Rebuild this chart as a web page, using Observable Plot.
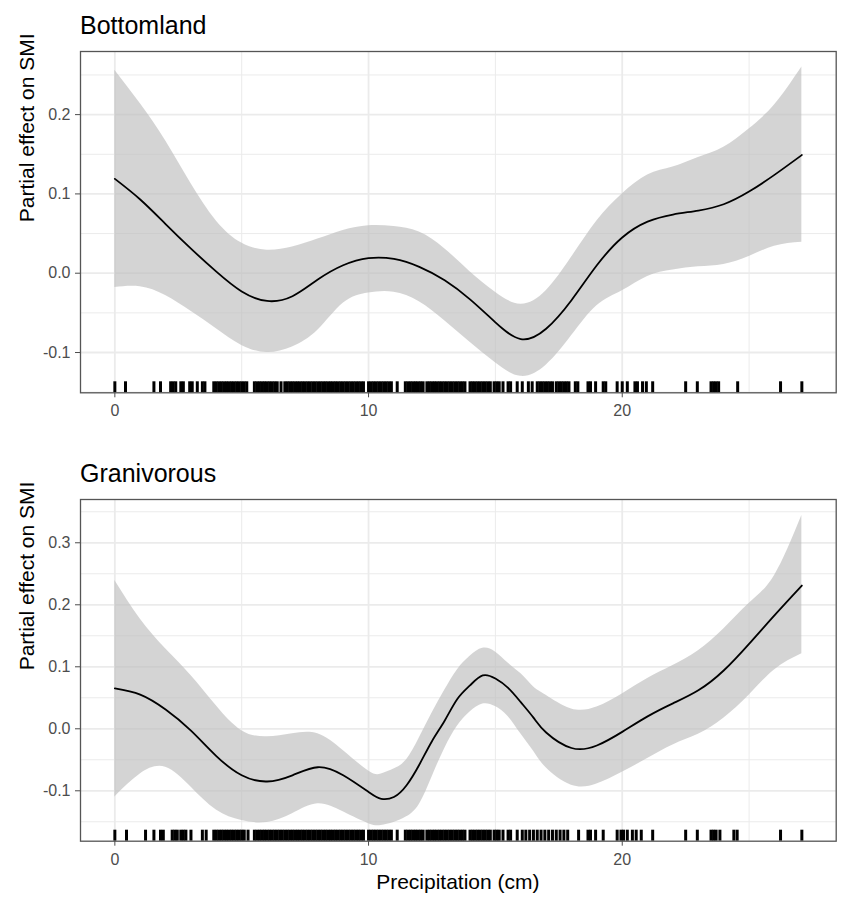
<!DOCTYPE html>
<html>
<head>
<meta charset="utf-8">
<script src="https://cdn.jsdelivr.net/npm/d3@7"></script>
<script src="https://cdn.jsdelivr.net/npm/@observablehq/plot@0.6"></script>
<style>
  body { margin: 0; background: #fff; }
  #wrap { position: relative; width: 851px; height: 908px; background: #fff;
          font-family: "Liberation Sans", Arial, sans-serif; }
  .abs { position: absolute; white-space: nowrap; line-height: 1; color: #000; }
  .title { font-size: 25px; left: 80px; }
  .xtitle { font-size: 21px; left: 80px; width: 755.7px; text-align: center; }
</style>
</head>
<body>
<div id="wrap"></div>
<script>
// ---------- data ----------
const panelTitles = ["Bottomland", "Granivorous"];
const xAxisTitle = "Precipitation (cm)";
const yAxisTitle = "Partial effect on SMI";

const xMajorTicks = [0, 10, 20];
const xMinorTicks = [5, 15, 25];

const yTicksBottom = [-0.1, 0.0, 0.1, 0.2];
const yMinorBottom = [-0.15, -0.05, 0.05, 0.15, 0.25];
const yTicksGran = [-0.1, 0.0, 0.1, 0.2, 0.3];
const yMinorGran = [-0.15, -0.05, 0.05, 0.15, 0.25, 0.35];

// Bottomland smooth
const xBottom   = [0, 1, 2, 3, 4, 5, 6, 7, 8, 9, 10, 11, 12, 13, 14, 15, 16, 17, 18, 19, 20, 21, 22, 23, 24, 25, 26, 27.08];
const fitBottom = [0.119, 0.093, 0.062, 0.031, 0.002, -0.023, -0.035, -0.029, -0.008, 0.010, 0.019, 0.018, 0.008, -0.009, -0.033, -0.062, -0.083, -0.070, -0.034, 0.010, 0.045, 0.065, 0.074, 0.079, 0.087, 0.103, 0.124, 0.149];
const loBottom  = [-0.018, -0.017, -0.028, -0.048, -0.070, -0.091, -0.100, -0.093, -0.072, -0.038, -0.025, -0.024, -0.036, -0.060, -0.087, -0.113, -0.130, -0.116, -0.079, -0.041, -0.022, -0.004, 0.004, 0.008, 0.011, 0.021, 0.034, 0.039];
const hiBottom  = [0.256, 0.214, 0.167, 0.113, 0.066, 0.038, 0.029, 0.033, 0.043, 0.054, 0.060, 0.059, 0.052, 0.031, 0.002, -0.024, -0.039, -0.022, 0.020, 0.066, 0.100, 0.124, 0.134, 0.146, 0.159, 0.182, 0.212, 0.260];

// Granivorous smooth
const xGran   = [0, 1, 2, 3, 4, 5, 6, 7, 8, 9, 10, 10.5, 11, 11.5, 12, 12.5, 13, 13.5, 14, 14.5, 15, 15.5, 16, 16.5, 17, 18, 19, 20, 21, 22, 23, 24, 25, 26, 27.08];
const fitGran = [0.065, 0.055, 0.031, -0.003, -0.044, -0.075, -0.085, -0.075, -0.062, -0.075, -0.102, -0.113, -0.110, -0.091, -0.058, -0.020, 0.013, 0.048, 0.070, 0.086, 0.081, 0.066, 0.043, 0.018, -0.006, -0.031, -0.027, -0.005, 0.020, 0.041, 0.062, 0.094, 0.137, 0.183, 0.231];
const loGran  = [-0.110, -0.073, -0.062, -0.094, -0.131, -0.148, -0.151, -0.137, -0.121, -0.134, -0.153, -0.156, -0.151, -0.142, -0.122, -0.078, -0.032, 0.004, 0.027, 0.040, 0.036, 0.020, -0.008, -0.036, -0.063, -0.091, -0.089, -0.070, -0.048, -0.026, -0.009, 0.017, 0.054, 0.095, 0.121];
const hiGran  = [0.239, 0.177, 0.129, 0.086, 0.037, -0.003, -0.013, -0.008, -0.008, -0.035, -0.068, -0.073, -0.065, -0.050, -0.015, 0.025, 0.062, 0.095, 0.117, 0.130, 0.124, 0.106, 0.089, 0.068, 0.054, 0.032, 0.035, 0.056, 0.081, 0.102, 0.126, 0.161, 0.202, 0.247, 0.344];

// rug (observed precipitation values)
const rugBottom = [0, 0.42, 1.54, 1.8, 2.2, 2.3, 2.4, 2.6, 2.7, 2.95, 3.05, 3.25, 3.45, 3.55,
  3.9, 4.0, 4.1, 4.2, 4.3, 4.4, 4.5, 4.6, 4.7, 4.8, 4.9, 5.0, 5.1, 5.2,
  5.5, 5.6, 5.7, 5.8, 5.9, 6.0, 6.1, 6.2, 6.3, 6.4, 6.55, 6.7, 6.8, 6.9, 7.0, 7.1, 7.2, 7.3,
  7.4, 7.5, 7.6, 7.7, 7.8, 7.9, 8.0, 8.1, 8.2, 8.3, 8.4, 8.5, 8.6, 8.7, 8.8, 8.9, 9.0, 9.1,
  9.2, 9.3, 9.4, 9.5, 9.6, 9.7, 9.8, 10.0, 10.1, 10.2, 10.3, 10.4, 10.5, 10.6, 10.7, 10.8, 10.9,
  11.13, 11.45, 11.55, 11.65, 11.75, 11.85, 11.95, 12.05, 12.15, 12.3, 12.4, 12.5, 12.6, 12.7,
  12.8, 12.9, 13.0, 13.1, 13.2, 13.3, 13.4, 13.5, 13.6, 13.7, 13.8, 14.0, 14.1, 14.2, 14.3,
  14.4, 14.5, 14.6, 14.7, 14.8, 14.95, 15.05, 15.15, 15.3, 15.5, 15.6, 15.86, 16.06, 16.3,
  16.45, 16.65, 16.75, 16.85, 16.95, 17.05, 17.15, 17.25, 17.4, 17.5, 17.6, 17.7, 17.8, 17.9,
  18.15, 18.25, 18.65, 18.75, 18.95, 19.25, 19.35, 19.8, 20.0, 20.2, 20.5, 20.6, 20.8, 20.95,
  21.2, 22.5, 22.96, 23.5, 23.6, 23.7, 23.8, 24.55, 26.24, 27.08];
const rugGran = [0, 0.46, 1.21, 1.54, 1.8, 1.91, 2.26, 2.36, 2.46, 2.6, 2.7, 2.8, 3.0, 3.45, 3.6,
  3.9, 4.0, 4.1, 4.2, 4.3, 4.4, 4.5, 4.6, 4.7, 4.8, 4.9, 5.0, 5.1, 5.25,
  5.5, 5.6, 5.7, 5.8, 5.9, 6.0, 6.1, 6.2, 6.3, 6.4, 6.5, 6.6, 6.7, 6.8, 6.9, 7.0, 7.1, 7.2, 7.3,
  7.4, 7.5, 7.6, 7.7, 7.8, 7.9, 8.0, 8.1, 8.2, 8.3, 8.4, 8.5, 8.6, 8.7, 8.8, 8.9, 9.0, 9.1,
  9.2, 9.3, 9.4, 9.5, 9.6, 9.7, 9.8, 10.0, 10.1, 10.2, 10.3, 10.4, 10.5, 10.6, 10.7, 10.8, 10.9,
  11.13, 11.45, 11.55, 11.65, 11.75, 11.85, 11.95, 12.05, 12.15, 12.3, 12.4, 12.5, 12.6, 12.7,
  12.8, 12.9, 13.0, 13.1, 13.2, 13.3, 13.4, 13.5, 13.6, 13.7, 13.8, 14.0, 14.1, 14.2, 14.3,
  14.4, 14.5, 14.6, 14.7, 14.8, 14.95, 15.05, 15.15, 15.3, 15.5, 15.6, 15.86, 16.06, 16.2,
  16.35, 16.5, 16.65, 16.8, 16.95, 17.1, 17.25, 17.4, 17.55, 17.7, 17.85, 18.28,
  18.65, 18.75, 18.95, 19.25, 19.8, 19.95, 20.05, 20.2, 20.4, 20.55, 20.75, 21.2,
  22.5, 22.96, 23.5, 23.6, 23.7, 23.85, 24.4, 24.53, 26.24, 27.08];

// ---------- drawing ----------
const xDomain = [-1.354, 28.434];
const wrap = document.getElementById("wrap");

function rowsOf(xs, fit, lo, hi) {
  return xs.map((x, i) => ({x, fit: fit[i], lo: lo[i], hi: hi[i]}));
}

function panel({rows, rug, yDomain, yTicks, yMinor, height, marginBottom}) {
  const marginTop = 51;
  const frameH = height - marginTop - marginBottom;
  const gridStyle = {stroke: "#ebebeb", strokeOpacity: 1};
  return Plot.plot({
    width: 851,
    height,
    marginLeft: 80,
    marginRight: 15.3,
    marginTop,
    marginBottom,
    style: {fontFamily: "Liberation Sans, Arial, sans-serif", background: "white", overflow: "visible"},
    x: {domain: xDomain},
    y: {domain: yDomain},
    marks: [
      Plot.gridX(xMinorTicks, {...gridStyle, strokeWidth: 1}),
      Plot.gridX(xMajorTicks, {...gridStyle, strokeWidth: 1.8}),
      Plot.gridY(yMinor, {...gridStyle, strokeWidth: 1}),
      Plot.gridY(yTicks, {...gridStyle, strokeWidth: 1.8}),
      Plot.areaY(rows, {x: "x", y1: "lo", y2: "hi", fill: "#bdbdbd", fillOpacity: 0.65, curve: "natural"}),
      Plot.lineY(rows, {x: "x", y: "fit", stroke: "black", strokeWidth: 1.8, curve: "natural"}),
      Plot.ruleX(rug, {x: d => d, insetTop: frameH - 11, stroke: "black", strokeWidth: 3}),
      Plot.frame({stroke: "#555", strokeWidth: 1.3}),
      Plot.axisX(xMajorTicks, {tickSize: 5, tickPadding: 7, fontSize: 16, color: "#4d4d4d", label: null, tickFormat: d => String(d)}),
      Plot.axisY(yTicks, {tickSize: 5, tickPadding: 5, fontSize: 16, color: "#4d4d4d", label: null, tickFormat: d => d.toFixed(1)}),
      Plot.text([yAxisTitle], {frameAnchor: "left", rotate: -90, dx: -53, fontSize: 21, fill: "black", text: d => d})
    ]
  });
}

const p1 = panel({
  rows: rowsOf(xBottom, fitBottom, loBottom, hiBottom),
  rug: rugBottom,
  yDomain: [-0.1508, 0.2796],
  yTicks: yTicksBottom,
  yMinor: yMinorBottom,
  height: 430,
  marginBottom: 37.7
});
p1.style.position = "absolute";
p1.style.left = "0px";
p1.style.top = "0px";
wrap.appendChild(p1);

const p2 = panel({
  rows: rowsOf(xGran, fitGran, loGran, hiGran),
  rug: rugGran,
  yDomain: [-0.1813, 0.3698],
  yTicks: yTicksGran,
  yMinor: yMinorGran,
  height: 420,
  marginBottom: 27.3
});
p2.style.position = "absolute";
p2.style.left = "0px";
p2.style.top = "448px";
wrap.appendChild(p2);

function addText(cls, text, top) {
  const d = document.createElement("div");
  d.className = "abs " + cls;
  d.style.top = top + "px";
  d.textContent = text;
  wrap.appendChild(d);
}
addText("title", panelTitles[0], 13.1);
addText("title", panelTitles[1], 461.1);
addText("xtitle", xAxisTitle, 870.5);
</script>
</body>
</html>
